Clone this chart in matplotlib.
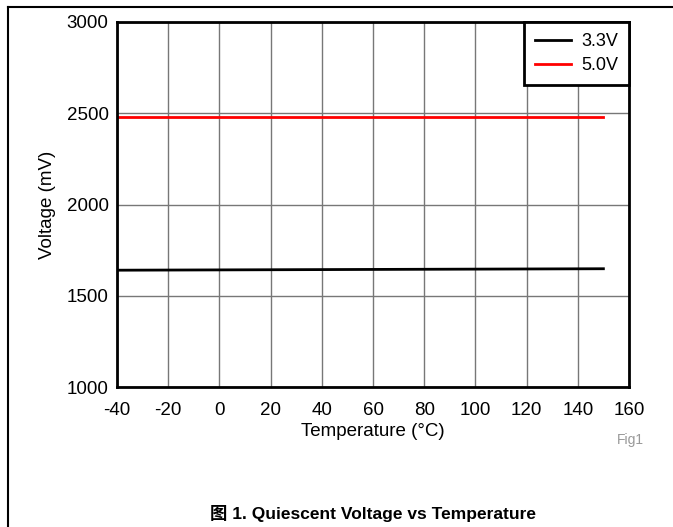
import matplotlib.pyplot as plt
from matplotlib.lines import Line2D
from matplotlib.ticker import FuncFormatter

# data
temp = [-40, 150]
v33 = [1640, 1648]
v50 = [2482, 2482]
xticks = [-40, -20, 0, 20, 40, 60, 80, 100, 120, 140, 160]
yticks = [1000, 1500, 2000, 2500, 3000]

plt.rcParams['font.family'] = ['Liberation Sans', 'Noto Sans CJK SC']
plt.rcParams['axes.unicode_minus'] = False

W, H = 673, 527
fig = plt.figure(figsize=(W / 100, H / 100), dpi=100)

# axes box in pixels: left 117, right 629, top 22, bottom 387
ax = fig.add_axes([117 / W, 1 - 387 / H, (629 - 117) / W, (387 - 22) / H])

ax.plot(temp, v33, color='black', lw=2, label='3.3V')
ax.plot(temp, v50, color='red', lw=2, label='5.0V')

ax.set_xlim(-40, 160)
ax.set_ylim(1000, 3000)
ax.set_xticks(xticks)
ax.set_yticks(yticks)
ax.xaxis.set_major_formatter(FuncFormatter(lambda v, p: '%d' % v))
ax.tick_params(labelsize=13.5, length=0)
ax.tick_params(axis='x', pad=11)
ax.tick_params(axis='y', pad=6)
ax.grid(True, color='#777777', lw=1)
ax.set_axisbelow(True)
for s in ax.spines.values():
    s.set_linewidth(2)

ax.set_xlabel('Temperature (°C)', fontsize=13.5, labelpad=3)
ax.set_ylabel('Voltage (mV)', fontsize=13.5, labelpad=8)

leg = ax.legend(loc='upper right', fontsize=13, frameon=True, fancybox=False,
                borderaxespad=0, handlelength=2.0, handletextpad=0.55,
                borderpad=0.6, labelspacing=0.4)
leg.get_frame().set_edgecolor('black')
leg.get_frame().set_linewidth(2)
leg.get_frame().set_alpha(1)

fig.text(630 / W, 1 - 440 / H, 'Fig1', fontsize=10, color='#999999',
         ha='center', va='center')
fig.text(373 / W, 1 - 514 / H, '图 1. Quiescent Voltage vs Temperature',
         fontsize=12.5, fontweight='bold', ha='center', va='center')

# outer frame lines
fig.add_artist(Line2D([8 / W, 1], [1 - 7 / H, 1 - 7 / H], color='black', lw=1.5))
fig.add_artist(Line2D([8 / W, 8 / W], [1 - 7 / H, 0], color='black', lw=1.5))

fig.savefig('out.png', dpi=100)
